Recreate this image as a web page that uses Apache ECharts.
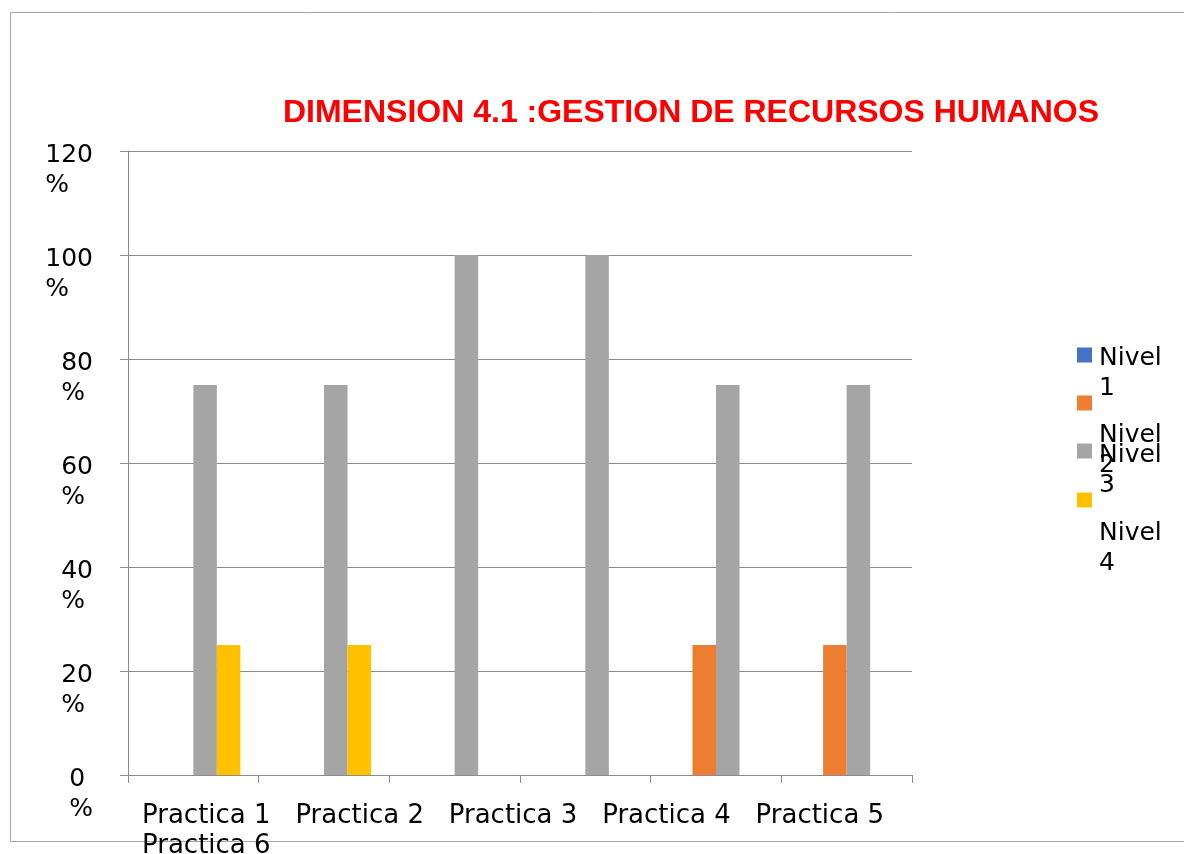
<!DOCTYPE html>
<html>
<head>
<meta charset="utf-8">
<title>DIMENSION 4.1 :GESTION DE RECURSOS HUMANOS</title>
<script src="https://cdn.jsdelivr.net/npm/echarts@6/dist/echarts.min.js"></script>
<style>
  html, body { margin: 0; padding: 0; background: #fff; }
  #chart { width: 1184px; height: 854px; }
</style>
</head>
<body>
<div id="chart"></div>
<script>
// datos
var categorias = ['Practica 1', 'Practica 2', 'Practica 3', 'Practica 4', 'Practica 5', 'Practica 6'];
var nivel1 = [0, 0, 0, 0, 0, 0];
var nivel2 = [0, 0, 0, 0, 25, 25];
var nivel3 = [75, 75, 100, 100, 75, 75];
var nivel4 = [25, 25, 0, 0, 0, 0];
var nombres = ['Nivel 1', 'Nivel 2', 'Nivel 3', 'Nivel 4'];
var colores = ['#4472C4', '#ED7D31', '#A5A5A5', '#FFC000'];

var myChart = echarts.init(document.getElementById('chart'));

// cada leyenda por separado, como en el original (textos montados)
var leyendaTop = [324, 372, 420, 469];
var leyendaDesp = [18, 47, 19, 48];
var leyendas = nombres.map(function (n, i) {
  return {
    data: [n],
    orient: 'vertical',
    left: 1077,
    top: leyendaTop[i],
    padding: 0,
    itemWidth: 15,
    itemHeight: 15,
    icon: 'rect',
    selectedMode: false,
    // una linea vacia arriba baja el texto respecto al icono
    formatter: function (name) {
      var p = name.split(' ');
      return '{s| }\n{t|' + p[0] + '}\n{t|' + p[1] + '}';
    },
    textStyle: {
      padding: [0, 0, 0, 2],
      rich: {
        s: { fontSize: 2, lineHeight: leyendaDesp[i] * 2 },
        t: {
          fontFamily: 'DejaVu Sans',
          fontSize: 25,
          lineHeight: 30,
          color: '#000'
        }
      }
    }
  };
});

var option = {
  backgroundColor: '#fff',
  animation: false,
  title: {
    text: 'DIMENSION 4.1 :GESTION DE RECURSOS HUMANOS',
    left: 686,
    textAlign: 'center',
    top: 92,
    textStyle: {
      fontFamily: 'Liberation Sans',
      fontWeight: 'bold',
      fontSize: 32,
      color: '#FF0000'
    }
  },
  legend: leyendas,
  grid: {
    left: 128,
    right: 272,
    top: 151,
    bottom: 79
  },
  xAxis: {
    type: 'category',
    data: categorias,
    axisLine: { lineStyle: { color: '#8c8c8c' } },
    axisTick: { show: true, length: 8, lineStyle: { color: '#8c8c8c' } },
    axisLabel: { show: false }
  },
  yAxis: {
    type: 'value',
    min: 0,
    max: 120,
    interval: 20,
    axisLine: { show: true, lineStyle: { color: '#8c8c8c' } },
    axisTick: { show: true, length: 8, lineStyle: { color: '#8c8c8c' } },
    splitLine: { lineStyle: { color: '#8c8c8c' } },
    axisLabel: {
      margin: 35,
      align: 'right',
      padding: [38, 0, 0, 0],
      formatter: function (v) { return '{a|' + v + '}\n{a|%}'; },
      rich: {
        a: {
          align: 'left',
          fontFamily: 'DejaVu Sans',
          fontSize: 25,
          lineHeight: 30,
          color: '#000'
        }
      }
    }
  },
  graphic: [
    {
      type: 'rect',
      shape: { x: 10.5, y: 12.5, width: 1180, height: 829 },
      style: { fill: 'none', stroke: '#a6a6a6', lineWidth: 1 },
      silent: true
    },
    {
      type: 'text',
      left: 142,
      top: 801,
      style: {
        text: categorias.slice(0, 5).join('   ') + '\n' + categorias[5],
        fontFamily: 'DejaVu Sans',
        fontSize: 26,
        lineHeight: 30,
        fill: '#000'
      }
    }
  ],
  series: [
    { name: nombres[0], type: 'bar', data: nivel1, barGap: 0, barCategoryGap: '28%', itemStyle: { color: colores[0] } },
    { name: nombres[1], type: 'bar', data: nivel2, barGap: 0, barCategoryGap: '28%', itemStyle: { color: colores[1] } },
    { name: nombres[2], type: 'bar', data: nivel3, barGap: 0, barCategoryGap: '28%', itemStyle: { color: colores[2] } },
    { name: nombres[3], type: 'bar', data: nivel4, barGap: 0, barCategoryGap: '28%', itemStyle: { color: colores[3] } }
  ]
};

myChart.setOption(option);
</script>
</body>
</html>
